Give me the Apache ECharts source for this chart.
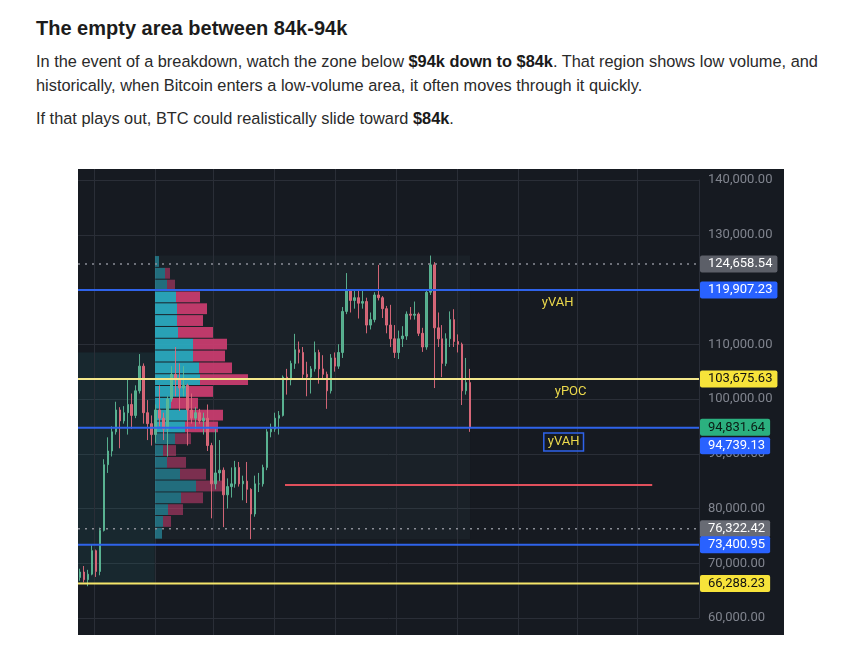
<!DOCTYPE html>
<html>
<head>
<meta charset="utf-8">
<script src="https://cdn.jsdelivr.net/npm/echarts@6.0.0/dist/echarts.min.js"></script>
<style>
html,body{margin:0;padding:0;background:#ffffff;}
body{width:859px;height:663px;position:relative;overflow:hidden;}
.txt{position:absolute;left:36px;margin:0;white-space:nowrap;font-family:"Liberation Sans",Arial,Helvetica,sans-serif;}
#title{top:16px;font-size:20px;line-height:24px;font-weight:700;color:#1c1c1c;}
#p1{top:49px;font-size:16.35px;line-height:24px;color:#2a2a2a;}
#p2{top:106px;font-size:16.35px;line-height:24px;color:#2a2a2a;}
b{font-weight:700;color:#1a1a1a;}
#chart{position:absolute;left:78px;top:169px;width:706px;height:466px;background:#161a21;}
</style>
</head>
<body>
<h2 class="txt" id="title">The empty area between 84k-94k</h2>
<p class="txt" id="p1">In the event of a breakdown, watch the zone below <b>$94k down to $84k</b>. That region shows low volume, and<br>historically, when Bitcoin enters a low-volume area, it often moves through it quickly.</p>
<p class="txt" id="p2">If that plays out, BTC could realistically slide toward <b>$84k</b>.</p>
<div id="chart"></div>
<script>
// ---------------- DATA ----------------
const X_MIN = '2024-10-16';
const X_MAX = '2026-07-02';

// 4-day candles (mid-dates)
const candleDates = ['2024-10-18','2024-10-22','2024-10-26','2024-10-30','2024-11-03','2024-11-07','2024-11-11','2024-11-15','2024-11-19','2024-11-23',
'2024-11-27','2024-12-01','2024-12-05','2024-12-09','2024-12-13','2024-12-17','2024-12-21','2024-12-25','2024-12-29','2025-01-02',
'2025-01-06','2025-01-10','2025-01-14','2025-01-18','2025-01-22','2025-01-26','2025-01-30','2025-02-03','2025-02-07','2025-02-11',
'2025-02-15','2025-02-19','2025-02-23','2025-02-27','2025-03-03','2025-03-07','2025-03-11','2025-03-15','2025-03-19','2025-03-23',
'2025-03-27','2025-03-31','2025-04-04','2025-04-08','2025-04-12','2025-04-16','2025-04-20','2025-04-24','2025-04-28','2025-05-02',
'2025-05-06','2025-05-10','2025-05-14','2025-05-18','2025-05-22','2025-05-26','2025-05-30','2025-06-03','2025-06-07','2025-06-11',
'2025-06-15','2025-06-19','2025-06-23','2025-06-27','2025-07-01','2025-07-05','2025-07-09','2025-07-13','2025-07-17','2025-07-21',
'2025-07-25','2025-07-29','2025-08-02','2025-08-06','2025-08-10','2025-08-14','2025-08-18','2025-08-22','2025-08-26','2025-08-30',
'2025-09-03','2025-09-07','2025-09-11','2025-09-15','2025-09-19','2025-09-23','2025-09-27','2025-10-01','2025-10-05','2025-10-09',
'2025-10-13','2025-10-17','2025-10-21','2025-10-25','2025-10-29','2025-11-02','2025-11-06','2025-11-10','2025-11-14'];

const opens = [67400,68400,67000,68000,72300,68500,76000,88000,90500,94000,
98000,96000,97500,99000,97000,101500,106000,97500,95500,93500,
98000,96500,94500,100000,104500,103500,102000,102500,98000,96500,
97500,96000,96500,91500,84500,86500,87000,82500,84000,84500,
87500,84500,85000,83500,79000,84500,84500,87500,94000,94500,
96500,97000,104000,103500,106500,109000,108500,104500,104000,105500,
108500,105500,104500,101500,107500,106000,108500,116000,119800,118000,
118500,117500,117800,113500,114500,119000,118500,116500,113500,111000,
108500,111000,111500,115500,115300,115500,112000,109500,119500,124500,
113000,111000,106500,111000,114500,110500,110000,101500,103000];

const closes = [68400,67000,68000,72300,68500,76000,88000,90500,94000,98000,
96000,97500,99000,97000,101500,106000,97500,95500,93500,98000,
96500,94500,100000,104500,103500,102000,102500,98000,96500,97500,
96000,96500,91500,84500,86500,87000,82500,84000,84500,87500,
84500,85000,83500,79000,84500,84500,87500,94000,94500,96500,
97000,104000,103500,106500,109000,108500,104500,104000,105500,108500,
105500,104500,101500,107500,106000,108500,116000,119800,118000,118500,
117500,117800,113500,114500,119000,118500,116500,113500,111000,108500,
111000,111500,115500,115300,115500,112000,109500,119500,124500,113000,
111000,106500,111000,114500,110500,110000,101500,103000,94831.64];

const lows = [66800,66500,65800,67800,67500,67800,75800,86500,89500,93500,
91000,95500,93500,94500,96500,101000,95500,92500,91500,92000,
95000,92500,89500,99500,100500,97800,100500,91500,95500,94500,
95500,93500,90500,78200,83500,85000,76600,80000,82000,83800,
84000,81500,81000,74400,78500,83000,84000,87000,93000,94000,
93500,96800,100800,102500,105500,106500,103500,100500,101000,105000,
102800,103500,98200,101000,105000,105500,107500,115500,115800,116500,
114700,116500,112000,112700,114000,118000,114800,112000,109500,107500,
107300,109500,110800,114500,114500,111500,108600,109000,119000,102000,
109500,104000,106000,109500,109500,108500,98900,100800,94000];

const highs = [69000,69500,68800,73500,72500,76500,89000,93000,95000,99500,
98500,98700,103500,101000,102500,108200,106500,99800,97000,99000,
102500,97500,100500,106000,109500,106500,106000,102800,101000,98500,
98200,97500,99000,92000,94500,92500,87500,85500,87500,88700,
88500,86000,88500,83700,86000,86500,88000,94500,95500,97500,
97800,104300,105500,107000,111900,110500,109500,106800,106000,110500,
109000,108000,105000,108200,108500,110000,116800,123000,120000,120000,
119800,119800,118500,115800,119500,124500,118800,117000,117200,113500,
112500,113300,116000,116800,117800,115800,113000,120000,126200,125000,
115800,113500,112000,116000,116400,111800,110300,107500,105500];

// Volume profile (from 2025-01-01), 24 price rows, bottom to top
const profileStart = '2025-01-01';
const profileEnd = '2025-11-14';
const profileEdges = [74400,76558,78717,80875,83033,85192,87350,89508,91667,93825,95983,98142,100300,
102458,104617,106775,108933,111092,113250,115408,117567,119725,121883,124042,126200];
const upVolume   = [7,8,13,26,41,25,12,8,20,30,33,16,33,45,44,38,38,23,22,22,21,12,10,4];
const downVolume = [0,8,15,22,29,26,19,13,16,33,35,27,25,48,33,32,34,35,26,30,24,8,5,0];

// Key levels
const levelPrices = [124658.54, 119907.23, 103675.63, 94739.13, 76322.42, 73400.95, 66288.23, 84300];
const levelStarts = [X_MIN, X_MIN, X_MIN, X_MIN, X_MIN, X_MIN, X_MIN, '2025-05-12'];
const levelEnds   = [X_MAX, X_MAX, X_MAX, X_MAX, X_MAX, X_MAX, X_MAX, '2026-05-16'];
const yVAH = 119907.23, yVAL = 94739.13;

// Price tags on the right scale
const lastPrice = 94831.64;
const tagPrices = [124658.54, 119907.23, 103675.63, 94831.64, 94739.13, 76322.42, 73400.95, 66288.23];

// Shaded ranges
const boxStarts = ['2024-10-16', profileStart];
const boxEnds   = ['2025-01-01', profileEnd];
const boxLows   = [66288.23, 74400];
const boxHighs  = [108500, 126200];

// Annotations
const noteTexts  = ['yVAH', 'yPOC', 'yVAH'];
const noteDates  = ['2026-02-10', '2026-02-23', '2026-02-16'];
const notePrices = [117500, 101300, 92150];

// Axis ticks
const yMin = 60000, yMax = 140000, yStep = 10000;
const gridDates = ['2024-11-01','2025-01-01','2025-03-01','2025-05-01','2025-07-01','2025-09-01','2025-11-01','2026-01-01','2026-03-01','2026-05-01'];

// ---------------- STYLES ----------------
const levelStyles = [
  {stroke:'#8a8d96', lineWidth:1.5, lineDash:[2,5]},
  {stroke:'#2f63ea', lineWidth:2},
  {stroke:'#f4e88c', lineWidth:2},
  {stroke:'#2f63ea', lineWidth:2},
  {stroke:'#8a8d96', lineWidth:1.5, lineDash:[2,5]},
  {stroke:'#2f63ea', lineWidth:2},
  {stroke:'#f5e66a', lineWidth:2},
  {stroke:'#e0505c', lineWidth:2}
];
const tagFills = ['#5c5f68','#2962ff','#f7e33a','#2bb07f','#2962ff','#686b74','#2962ff','#f7e33a'];
const tagTextColors = ['#ffffff','#ffffff','#111111','#0b1d15','#ffffff','#ffffff','#ffffff','#111111'];
const tagShift = [0,0,0,0,18,0,0,0];
const boxFills = ['rgba(40,150,150,0.12)', 'rgba(120,200,200,0.045)'];

// ---------------- HELPERS ----------------
const ts = s => { const p = s.split('-').map(Number); return new Date(p[0], p[1]-1, p[2]).getTime(); };
const fmt = v => Number(v).toLocaleString('en-US', {minimumFractionDigits:2, maximumFractionDigits:2});
const FONT = 'Roboto, "Liberation Sans", Arial, sans-serif';

const chart = echarts.init(document.getElementById('chart'), null, {renderer:'canvas'});

const candleData = candleDates.map((d,i) => [ts(d), opens[i], closes[i], lows[i], highs[i]]);
const profileData = upVolume.map((u,i) => {
  const mid = (profileEdges[i] + profileEdges[i+1]) / 2;
  return [profileEdges[i], profileEdges[i+1], u, downVolume[i], (mid >= yVAL && mid <= yVAH) ? 1 : 0];
});
const levelData = levelPrices.map((p,i) => [ts(levelStarts[i]), ts(levelEnds[i]), p, i]);
const boxData = boxStarts.map((s,i) => [ts(s), ts(boxEnds[i]), boxLows[i], boxHighs[i], i]);

const option = {
  animation: false,
  backgroundColor: '#161a21',
  grid: [
    {left:0, right:85, top:11, bottom:17, containLabel:false, outerBoundsMode:'none'},
    {left:77, right:85, top:11, bottom:17, containLabel:false, outerBoundsMode:'none'}
  ],
  xAxis: [
    {type:'time', gridIndex:0, min:ts(X_MIN), max:ts(X_MAX), show:false},
    {type:'value', gridIndex:1, min:0, max:544, show:false}
  ],
  yAxis: [
    {type:'value', gridIndex:0, position:'right', min:yMin, max:yMax, interval:yStep,
     axisLine:{show:true, lineStyle:{color:'#2a2e38', width:1}},
     axisTick:{show:false},
     axisLabel:{color:'#80848e', fontSize:13, fontFamily:FONT, margin:9, formatter: v => fmt(v)},
     splitLine:{show:true, lineStyle:{color:'#2a2e37', width:1}}},
    {type:'value', gridIndex:1, min:yMin, max:yMax, show:false}
  ],
  series: [
    { // shaded ranges
      type:'custom', xAxisIndex:0, yAxisIndex:0, z:1, silent:true, clip:false,
      encode:{x:[0,1], y:[2,3]},
      data: boxData,
      renderItem: (params, api) => {
        const a = api.coord([api.value(0), api.value(3)]);
        const b = api.coord([api.value(1), api.value(2)]);
        return {type:'rect', shape:{x:a[0], y:a[1], width:b[0]-a[0], height:b[1]-a[1]},
                style:{fill: boxFills[api.value(4)]}};
      }
    },
    { // vertical grid lines
      type:'custom', xAxisIndex:0, yAxisIndex:0, z:2, silent:true, clip:false,
      encode:{x:0, y:1},
      data: gridDates.map(d => [ts(d), 100000]),
      renderItem: (params, api) => {
        const a = api.coord([api.value(0), yMax]);
        const x = Math.round(a[0]) + 0.5;
        return {type:'line', shape:{x1:x, y1:0, x2:x, y2:api.getHeight()},
                style:{stroke:'#2a2e37', lineWidth:1}};
      }
    },
    { // volume profile
      type:'custom', xAxisIndex:1, yAxisIndex:1, z:3, silent:true, clip:false,
      encode:{x:[2,3], y:[0,1]},
      data: profileData,
      renderItem: (params, api) => {
        const lo = api.value(0), hi = api.value(1), up = api.value(2), dn = api.value(3), va = api.value(4);
        const p0 = api.coord([0, hi]);
        const p1 = api.coord([up, lo]);
        const p2 = api.coord([up + dn, lo]);
        const h = p1[1] - p0[1] - 1;
        const op = va ? 0.92 : 0.55;
        return {type:'group', children:[
          {type:'rect', shape:{x:p0[0], y:p0[1]+0.5, width:p1[0]-p0[0], height:h}, style:{fill:'#2aadc2', opacity:op}},
          {type:'rect', shape:{x:p1[0], y:p0[1]+0.5, width:p2[0]-p1[0], height:h}, style:{fill:'#cc3d70', opacity:op}}
        ]};
      }
    },
    { // candles
      type:'candlestick', xAxisIndex:0, yAxisIndex:0, z:4, silent:true,
      barWidth:2,
      encode:{x:0, y:[1,2,3,4]},
      data: candleData,
      itemStyle:{color:'#5cb896', color0:'#df6a7c', borderColor:'#5cb896', borderColor0:'#df6a7c', borderWidth:1, opacity:0.92}
    },
    { // key levels
      type:'custom', xAxisIndex:0, yAxisIndex:0, z:5, silent:true, clip:false,
      encode:{x:[0,1], y:2},
      data: levelData,
      renderItem: (params, api) => {
        const a = api.coord([api.value(0), api.value(2)]);
        const b = api.coord([api.value(1), api.value(2)]);
        return {type:'line', shape:{x1:a[0], y1:a[1], x2:b[0], y2:b[1]}, style: levelStyles[api.value(3)]};
      }
    },
    { // annotations
      type:'scatter', xAxisIndex:0, yAxisIndex:0, z:8, silent:true, clip:false, symbolSize:0,
      itemStyle:{opacity:1},
      data: noteTexts.map((t,i) => ({
        value:[ts(noteDates[i]), notePrices[i]], name:t,
        label: i === 2 ? {borderColor:'#2f63ea', borderWidth:1.5, padding:[3,4,2,4]} : {}
      })),
      label:{show:true, position:'inside', formatter: p => p.name, color:'#ecd94c', fontSize:13, fontFamily:FONT}
    },
    { // price tags
      type:'scatter', xAxisIndex:0, yAxisIndex:0, z:10, silent:true, clip:false, symbolSize:0,
      itemStyle:{opacity:1},
      data: tagPrices.map((p,i) => ({
        value:[ts(X_MAX), p],
        label:{backgroundColor:tagFills[i], color:tagTextColors[i], offset:[0, tagShift[i]]}
      })),
      label:{show:true, position:'right', distance:1, formatter: p => fmt(p.value[1]),
             fontSize:13, fontFamily:FONT, padding:[2,5,1,8], borderRadius:2, lineHeight:14}
    }
  ]
};
chart.setOption(option);
</script>
</body>
</html>
